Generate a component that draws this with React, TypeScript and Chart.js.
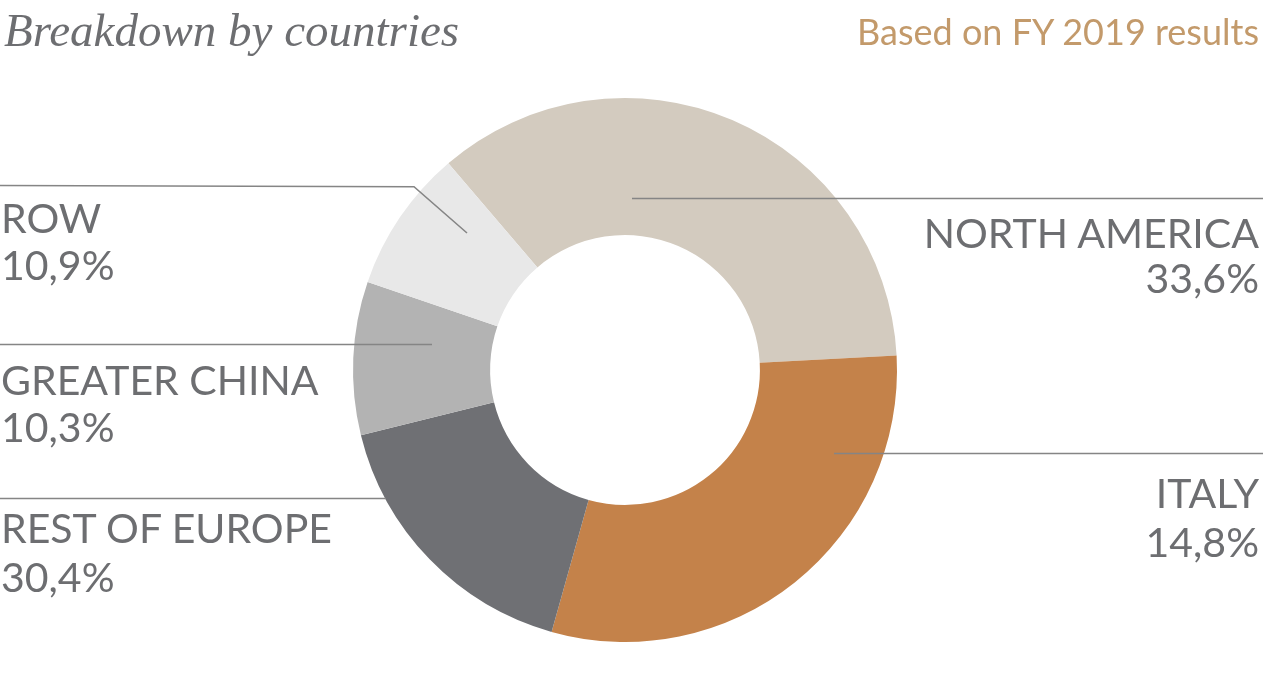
import React, { useEffect, useRef } from "react";
import { Chart, registerables } from "chart.js";

Chart.register(...registerables);

// ---- data ----
const categories = ["NORTH AMERICA", "ITALY", "REST OF EUROPE", "GREATER CHINA", "ROW"];
const sliceValues = [35.4, 30.2, 16.8, 9.1, 8.5];
const labelPercents = ["33,6%", "14,8%", "30,4%", "10,3%", "10,9%"];
const sliceColors = ["#d3cbbf", "#c4824a", "#6f7074", "#b3b3b3", "#e8e8e8"];

const TITLE = "Breakdown by countries";
const SUBTITLE = "Based on FY 2019 results";

// ---- layout (positions / styles only) ----
const W = 1266;
const H = 690;
const TEXT_GRAY = "#6d6e71";
const LINE_GRAY = "#858585";
const LABEL_SIZE = 41;

// label layout per category index: side, baseline of name, baseline of percent
const labelLayout = [
  { side: "right", b1: 248, b2: 293 },
  { side: "right", b1: 508, b2: 557 },
  { side: "left", b1: 543, b2: 592 },
  { side: "left", b1: 395, b2: 442 },
  { side: "left", b1: 233, b2: 280 },
];

// leader line polylines per category index
const leaderLines: number[][][] = [
  [[632, 198.5], [1263, 198.5]],
  [[834, 453.5], [1263, 453.5]],
  [[0, 498.5], [386, 498.5]],
  [[0, 344.5], [432, 344.5]],
  [[0, 185.5], [414, 186.7], [467, 233]],
];

const leaderPlugin = {
  id: "leaders",
  afterDatasetsDraw(chart: any) {
    const ctx = chart.ctx;
    ctx.save();
    ctx.strokeStyle = LINE_GRAY;
    ctx.lineWidth = 1.6;
    leaderLines.forEach((pts) => {
      ctx.beginPath();
      pts.forEach((p, i) => (i === 0 ? ctx.moveTo(p[0], p[1]) : ctx.lineTo(p[0], p[1])));
      ctx.stroke();
    });
    ctx.restore();
  },
};

function TextLine(props: {
  text: string;
  baseline: number;
  size: number;
  side: string;
  x: number;
  color: string;
  family: string;
  weight?: number;
  italic?: boolean;
  ascent: number;
  lh: number;
}) {
  const { text, baseline, size, side, x, color, family, weight, italic, ascent, lh } = props;
  const lineH = lh * size;
  const top = baseline - ((lineH - lh * size) / 2 + ascent * size);
  const style: React.CSSProperties = {
    position: "absolute",
    top,
    fontFamily: family,
    fontSize: size,
    lineHeight: `${lineH}px`,
    color,
    fontWeight: weight ?? 400,
    fontStyle: italic ? "italic" : "normal",
    whiteSpace: "nowrap",
  };
  if (side === "right") style.right = W - x;
  else style.left = x;
  return <div style={style}>{text}</div>;
}

export default function App() {
  const canvasRef = useRef<HTMLCanvasElement | null>(null);

  useEffect(() => {
    document.body.style.margin = "0";
    const canvas = canvasRef.current;
    if (!canvas) return;
    const chart = new Chart(canvas, {
      type: "doughnut",
      data: {
        labels: categories,
        datasets: [
          {
            data: sliceValues,
            backgroundColor: sliceColors,
            borderWidth: 0,
          },
        ],
      },
      options: {
        responsive: true,
        maintainAspectRatio: false,
        animation: false,
        rotation: -40.5,
        cutout: "49.6%",
        layout: { padding: { top: 98, bottom: 48, left: 297, right: 313 } },
        plugins: {
          legend: { display: false },
          tooltip: { enabled: false },
        },
      },
      plugins: [leaderPlugin],
    });
    return () => chart.destroy();
  }, []);

  const lato = "Lato, 'Noto Sans', sans-serif";

  return (
    <div
      style={{
        position: "absolute",
        left: 0,
        top: 0,
        width: W,
        height: H,
        overflow: "hidden",
        background: "#ffffff",
      }}
    >
      <div style={{ position: "absolute", left: 0, top: 0, width: W, height: H }}>
        <canvas ref={canvasRef} />
      </div>
      <TextLine
        text={TITLE}
        baseline={45}
        size={47}
        side="left"
        x={4}
        color={TEXT_GRAY}
        family="'Liberation Serif', 'DejaVu Serif', serif"
        italic
        ascent={0.891}
        lh={1.15}
      />
      <TextLine
        text={SUBTITLE}
        baseline={46}
        size={36}
        side="right"
        x={1259}
        color="#c39a6b"
        family={lato}
        ascent={0.987}
        lh={1.2}
      />
      {categories.map((c, i) => {
        const l = labelLayout[i];
        const x = l.side === "right" ? 1259 : 1;
        return (
          <React.Fragment key={c}>
            <TextLine text={c} baseline={l.b1} size={LABEL_SIZE} side={l.side} x={x} color={TEXT_GRAY} family={lato} weight={400} ascent={0.987} lh={1.2} />
            <TextLine text={labelPercents[i]} baseline={l.b2} size={LABEL_SIZE} side={l.side} x={x} color={TEXT_GRAY} family={lato} weight={400} ascent={0.987} lh={1.2} />
          </React.Fragment>
        );
      })}
    </div>
  );
}
